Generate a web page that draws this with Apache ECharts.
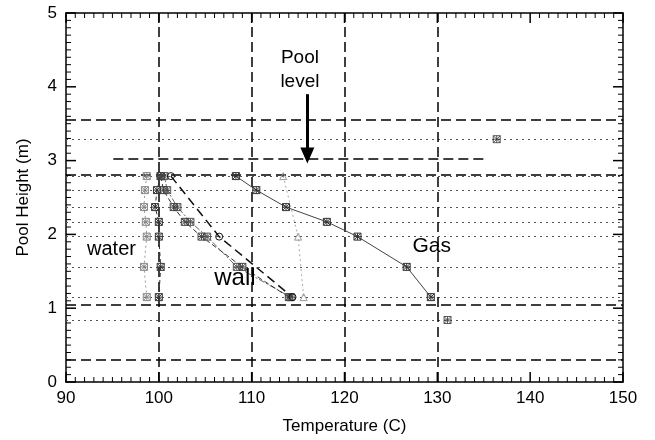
<!DOCTYPE html>
<html><head><meta charset="utf-8">
<script src="https://cdn.jsdelivr.net/npm/echarts@6/dist/echarts.min.js"></script>
<style>html,body{margin:0;padding:0;background:#fff}#c{width:655px;height:440px}</style>
</head><body><div id="c"></div>
<script>
// ---- data ----
const heights = [2.79, 2.60, 2.37, 2.17, 1.97, 1.56, 1.15];
const gasT = [108.3, 110.5, 113.7, 118.1, 121.4, 126.7, 129.3];
const gasExtraT = [136.4, 131.1];
const gasExtraH = [3.29, 0.84];
const waterAT = [98.7, 98.5, 98.4, 98.6, 98.7, 98.4, 98.7];
const waterBT = [100.2, 99.8, 99.6, 100.0, 100.0, 100.2, 100.0];
const wallBT = [100.6, 100.9, 102.0, 103.4, 105.2, 108.4, 114.2];
const wallCT = [100.2, 100.5, 101.6, 102.8, 104.6, 109.0, 114.0];
const wallAT = [101.3, 106.5, 114.4];
const wallAH = [2.79, 1.97, 1.15];
const outerT = [113.4, 115.0, 115.6];
const outerH = [2.79, 1.97, 1.15];
const dashedH = [3.55, 2.81, 1.05, 0.30];
const dottedH = [3.29, 2.79, 2.60, 2.37, 2.17, 1.97, 1.56, 1.15, 0.84];
const dashedV = [100, 110, 120, 130];
const poolT = [95.1, 135.2];
const poolH = 3.02;
const arrowT = 116.0;
const arrowH = [3.90, 3.07];
const labels = [
  {text: 'Pool', t: 115.2, h: 4.40, size: 19},
  {text: 'level', t: 115.2, h: 4.07, size: 19},
  {text: 'water', t: 94.9, h: 1.79, size: 20},
  {text: 'wall', t: 108.2, h: 1.40, size: 24},
  {text: 'Gas', t: 129.4, h: 1.84, size: 21}
];
const X_MIN = 90, X_MAX = 150, X_STEP = 10, X_MINOR = 1;
const Y_MIN = 0, Y_MAX = 5, Y_STEP = 1, Y_MINOR = 0.1;

const FONT = '"Liberation Sans", Arial, sans-serif';
const star = 'path://M1,1L9,1L9,9L1,9Z M1,1L9,9 M9,1L1,9 M5,1L5,9 M1,5L9,5';
const zip = (xs, ys) => xs.map((x, i) => [x, ys[i]]);

// tick positions (inside ticks on all four sides), drawn as rect symbols
const xTickBottomMaj = [], xTickBottomMin = [], xTickTopMaj = [], xTickTopMin = [];
const yTickLeftMaj = [], yTickLeftMin = [], yTickRightMaj = [], yTickRightMin = [];
const nx = Math.round((X_MAX - X_MIN) / X_MINOR), mx = Math.round(X_STEP / X_MINOR);
for (let i = 0; i <= nx; i++) {
  const v = +(X_MIN + i * X_MINOR).toFixed(4), maj = i % mx === 0;
  (maj ? xTickBottomMaj : xTickBottomMin).push([v, Y_MIN]);
  (maj ? xTickTopMaj : xTickTopMin).push([v, Y_MAX]);
}
const ny = Math.round((Y_MAX - Y_MIN) / Y_MINOR), my = Math.round(Y_STEP / Y_MINOR);
for (let i = 0; i <= ny; i++) {
  const v = +(Y_MIN + i * Y_MINOR).toFixed(4), maj = i % my === 0;
  (maj ? yTickLeftMaj : yTickLeftMin).push([X_MIN, v]);
  (maj ? yTickRightMaj : yTickRightMin).push([X_MAX, v]);
}
function tickSeries(data, size, offset) {
  return {
    type: 'scatter', data, symbol: 'rect', symbolSize: size, symbolOffset: offset,
    itemStyle: {color: '#000', opacity: 1}, silent: true, z: 30, clip: false, animation: false
  };
}

function lineSeries(name, data, color, type, width, symbol, symColor) {
  return {
    name, type: 'line', data, symbol, symbolSize: 7,
    lineStyle: {color, type, width},
    itemStyle: {color: 'none', borderColor: symColor || color, borderWidth: 1},
    z: 5, animation: false
  };
}

function mkAxis(min, max, interval, extra) {
  return Object.assign({
    type: 'value', min, max, interval,
    axisLine: {show: true, onZero: false, lineStyle: {color: '#000', width: 1.5}},
    axisTick: {show: false},
    splitLine: {show: false}
  }, extra);
}

const chart = echarts.init(document.getElementById('c'));
chart.setOption({
  animation: false,
  backgroundColor: '#fff',
  grid: {left: 66, right: 32, top: 13, bottom: 58},
  xAxis: [
    mkAxis(X_MIN, X_MAX, X_STEP, {
      position: 'bottom',
      name: 'Temperature (C)', nameLocation: 'middle', nameGap: 36,
      nameTextStyle: {fontFamily: FONT, fontSize: 17, color: '#000'},
      axisLabel: {fontFamily: FONT, fontSize: 17, color: '#000', margin: 8}
    }),
    mkAxis(X_MIN, X_MAX, X_STEP, {position: 'top', axisLabel: {show: false}})
  ],
  yAxis: [
    mkAxis(Y_MIN, Y_MAX, Y_STEP, {
      position: 'left',
      name: 'Pool Height (m)', nameLocation: 'middle', nameGap: 34,
      nameTextStyle: {fontFamily: FONT, fontSize: 17, color: '#000'},
      axisLabel: {fontFamily: FONT, fontSize: 17, color: '#000', margin: 9}
    }),
    mkAxis(Y_MIN, Y_MAX, Y_STEP, {position: 'right', axisLabel: {show: false}})
  ],
  series: [
    tickSeries(xTickBottomMaj, [1.5, 10], [0, -5]),
    tickSeries(xTickBottomMin, [1, 5], [0, -2.5]),
    tickSeries(xTickTopMaj, [1.5, 10], [0, 5]),
    tickSeries(xTickTopMin, [1, 5], [0, 2.5]),
    tickSeries(yTickLeftMaj, [10, 1.5], [5, 0]),
    tickSeries(yTickLeftMin, [5, 1], [2.5, 0]),
    tickSeries(yTickRightMaj, [10, 1.5], [-5, 0]),
    tickSeries(yTickRightMin, [5, 1], [-2.5, 0]),
    {
      type: 'line', data: [], silent: true, animation: false,
      markLine: {
        silent: true, symbol: 'none', animation: false,
        label: {show: false},
        data: [
          ...dashedH.map(v => ({yAxis: v, lineStyle: {color: '#000', type: [10, 5], width: 1.5}})),
          ...dottedH.map(v => ({yAxis: v, lineStyle: {color: '#555', type: [2, 4], width: 1}})),
          ...dashedV.map(v => ({xAxis: v, lineStyle: {color: '#000', type: [10, 5], width: 1.5}})),
          [{coord: [poolT[0], poolH], lineStyle: {color: '#000', type: [10, 5], width: 1.5}}, {coord: [poolT[1], poolH]}]
        ]
      }
    },
    {
      type: 'line', data: [], silent: true, animation: false,
      markLine: {
        silent: true, animation: false, symbol: ['none', 'triangle'], symbolSize: [14, 16],
        label: {show: false},
        lineStyle: {color: '#000', type: 'solid', width: 3},
        data: [[{coord: [arrowT, arrowH[0]]}, {coord: [arrowT, arrowH[1]]}]]
      }
    },
    lineSeries('waterA', zip(waterAT, heights), '#999', [2, 3], 1, star, '#888'),
    lineSeries('waterB', zip(waterBT, heights), '#333', [4, 3], 1, star, '#333'),
    lineSeries('wallB', zip(wallBT, heights), '#666', [6, 2, 2, 2], 1, star, '#555'),
    lineSeries('wallC', zip(wallCT, heights), '#333', [5, 3], 1, star, '#444'),
    lineSeries('wallA', zip(wallAT, wallAH), '#111', [9, 5], 1.5, 'circle', '#111'),
    lineSeries('outer', zip(outerT, outerH), '#aaa', [2, 3], 1, 'triangle', '#999'),
    lineSeries('gas', zip(gasT, heights), '#444', 'solid', 1, star, '#333'),
    {
      name: 'gasExtra', type: 'scatter', data: zip(gasExtraT, gasExtraH),
      symbol: star, symbolSize: 7,
      itemStyle: {color: 'none', borderColor: '#333', borderWidth: 1}, z: 5
    },
    {
      type: 'scatter', symbolSize: 0, silent: true, z: 10,
      itemStyle: {opacity: 1},
      data: labels.map(l => ({
        value: [l.t, l.h],
        label: {show: true, position: 'inside', formatter: l.text, fontFamily: FONT, fontSize: l.size, color: '#000', textBorderWidth: 0}
      }))
    }
  ]
});
</script></body></html>
